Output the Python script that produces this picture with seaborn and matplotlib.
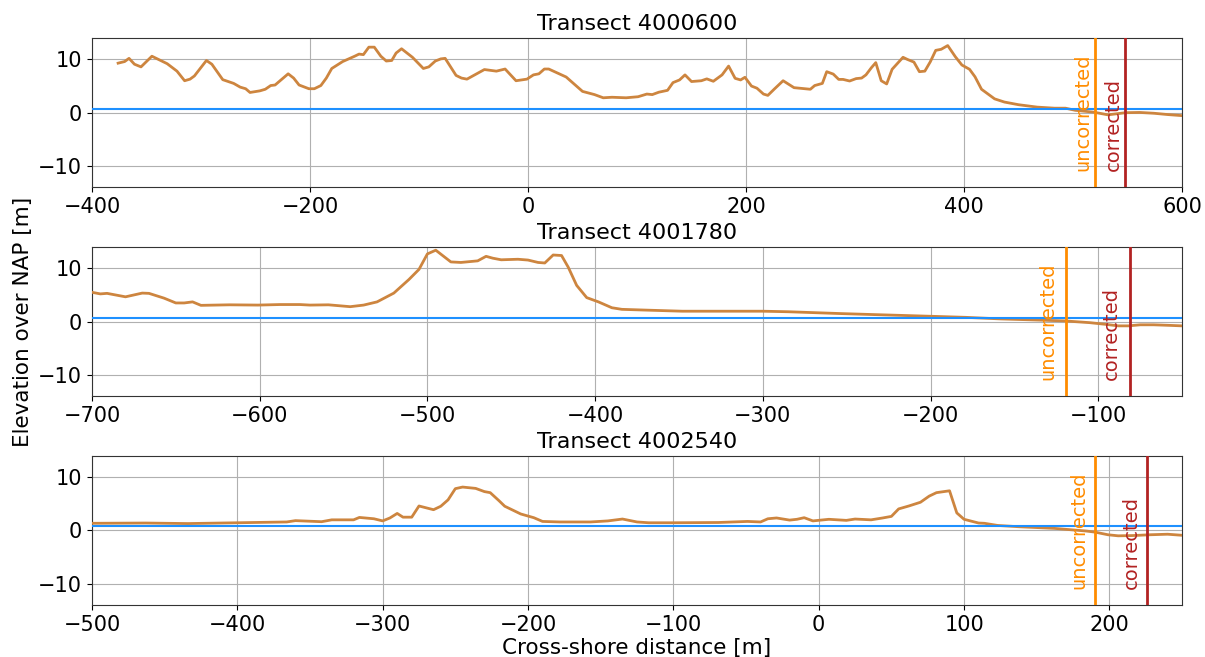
import matplotlib
matplotlib.use("Agg")
import matplotlib.pyplot as plt
import seaborn as sns
import numpy as np

# ---------------- data ----------------
titles = ["Transect 4000600", "Transect 4001780", "Transect 4002540"]
xlims = [(-400, 600), (-700, -50), (-500, 250)]
mhw_level = 0.75
uncorrected_x = [520, -119, 190]
corrected_x = [548, -81, 226]

top_x = [-376, -370, -366, -361, -355, -345, -339, -331, -322, -315,
         -310, -306, -295, -290, -280, -270, -264, -259, -255, -246,
         -241, -236, -232, -220, -215, -210, -201, -196, -190, -185,
         -180, -170, -159, -155, -151, -146, -141, -135, -130, -125,
         -121, -116, -106, -96, -91, -85, -80, -76, -66, -61,
         -56, -48, -40, -29, -21, -11, -1, 5, 10, 15,
         19, 35, 50, 61, 69, 77, 90, 101, 109, 114,
         120, 128, 133, 139, 144, 150, 159, 164, 170, 178,
         184, 190, 195, 199, 205, 210, 216, 220, 226, 234,
         244, 259, 263, 270, 274, 280, 285, 289, 295, 301,
         306, 310, 315, 319, 324, 329, 334, 344, 348, 354,
         359, 364, 369, 374, 379, 385, 392, 398, 405, 410,
         416, 421, 428, 437, 450, 467, 483, 493, 502, 519,
         532, 548, 561, 574, 587, 600]
top_z = [9.3, 9.6, 10.2, 9.1, 8.6, 10.6, 10.0, 9.2, 7.8, 6.0,
         6.3, 6.9, 9.8, 9.1, 6.2, 5.5, 4.8, 4.5, 3.8, 4.1,
         4.4, 5.1, 5.2, 7.3, 6.5, 5.2, 4.5, 4.5, 5.1, 6.5,
         8.3, 9.6, 10.6, 11.0, 10.9, 12.3, 12.3, 10.6, 9.7, 9.8,
         11.2, 12.0, 10.4, 8.3, 8.6, 9.7, 10.1, 10.2, 7.0, 6.5,
         6.3, 7.2, 8.1, 7.8, 8.2, 6.0, 6.3, 7.1, 7.3, 8.2,
         8.2, 6.7, 4.0, 3.4, 2.8, 2.9, 2.8, 3.0, 3.5, 3.4,
         3.85, 4.2, 5.65, 6.15, 7.1, 5.85, 6.0, 6.35, 5.9, 7.1,
         8.75, 6.45, 6.15, 6.65, 5.0, 4.6, 3.5, 3.25, 4.45, 6.0,
         4.7, 4.4, 5.1, 5.5, 7.7, 7.25, 6.25, 6.25, 5.95, 6.4,
         6.5, 7.1, 8.45, 9.4, 6.0, 5.4, 8.15, 10.4, 10.0, 9.5,
         7.7, 7.8, 9.55, 11.7, 11.9, 12.6, 10.5, 8.95, 8.15, 6.75,
         4.4, 3.65, 2.6, 2.0, 1.5, 1.05, 0.85, 0.85, 0.45, 0.1,
         -0.4, 0.0, 0.05, -0.1, -0.35, -0.55]

mid_x = [-700, -695, -691, -680, -675, -670, -666, -657, -650, -645,
         -640, -635, -618, -601, -588, -576, -570, -559, -546, -538,
         -530, -520, -511, -505, -500, -495, -486, -480, -470, -465,
         -461, -456, -446, -440, -434, -430, -425, -420, -416, -411,
         -405, -398, -390, -384, -374, -369, -348, -300, -285, -253,
         -232, -200, -179, -158, -137, -120, -105, -96, -88, -82,
         -75, -67, -58, -50]
mid_z = [5.5, 5.2, 5.3, 4.65, 5.0, 5.35, 5.3, 4.4, 3.5, 3.5,
         3.7, 3.05, 3.15, 3.1, 3.2, 3.2, 3.1, 3.15, 2.8, 3.1,
         3.7, 5.35, 7.9, 9.8, 12.7, 13.4, 11.2, 11.1, 11.4, 12.25,
         11.9, 11.6, 11.7, 11.55, 11.1, 11.0, 12.5, 12.4, 10.2, 6.8,
         4.5, 3.7, 2.6, 2.3, 2.2, 2.15, 1.95, 1.95, 1.85, 1.5,
         1.3, 1.0, 0.8, 0.5, 0.3, 0.13, -0.2, -0.5, -0.8, -0.8,
         -0.6, -0.6, -0.7, -0.8]

bot_x = [-500, -463, -434, -400, -366, -360, -342, -335, -320, -316,
         -306, -300, -295, -290, -286, -280, -275, -265, -260, -255,
         -250, -245, -236, -230, -226, -220, -216, -205, -196, -190,
         -178, -157, -145, -135, -125, -117, -100, -69, -49, -40,
         -35, -29, -20, -15, -10, -4, 7, 19, 25, 36,
         44, 50, 55, 62, 70, 76, 81, 90, 95, 100,
         110, 114, 123, 138, 162, 184, 190, 199, 206, 216,
         228, 240, 250]
bot_z = [1.35, 1.4, 1.3, 1.45, 1.6, 1.85, 1.65, 2.0, 2.0, 2.45,
         2.2, 1.8, 2.35, 3.2, 2.5, 2.5, 4.6, 3.9, 4.55, 5.75,
         7.85, 8.15, 7.9, 7.3, 7.1, 5.6, 4.55, 3.1, 2.4, 1.7,
         1.6, 1.6, 1.8, 2.15, 1.6, 1.45, 1.45, 1.5, 1.7, 1.6,
         2.2, 2.35, 1.95, 2.1, 2.4, 1.8, 2.1, 1.9, 2.15, 2.0,
         2.35, 2.65, 4.05, 4.6, 5.3, 6.45, 7.1, 7.45, 3.3, 2.1,
         1.4, 1.35, 0.95, 0.7, 0.4, -0.1, -0.3, -0.8, -1.0, -0.95,
         -0.8, -0.7, -0.9]

profiles_x = [top_x, mid_x, bot_x]
profiles_z = [top_z, mid_z, bot_z]
ylim = (-14, 14)
yticks = [-10, 0, 10]
label_offset = 11  # metres left of the vertical line

# ---------------- style ----------------
plt.rcParams["font.family"] = ["DejaVu Sans"]
profile_color = "#CD853F"
mhw_color = "#1E90FF"
unc_color = "darkorange"
cor_color = "firebrick"

fig, axes = plt.subplots(3, 1, figsize=(12.05, 6.57), dpi=100)
fig.subplots_adjust(left=0.0763, right=0.981, top=0.942, bottom=0.079, hspace=0.40)

for i, ax in enumerate(axes):
    sns.lineplot(x=profiles_x[i], y=profiles_z[i], ax=ax, color=profile_color,
                 linewidth=2.0, zorder=3)
    ax.axhline(mhw_level, color=mhw_color, linewidth=1.5, zorder=4)
    ax.axvline(uncorrected_x[i], color=unc_color, linewidth=2.0, zorder=5)
    ax.axvline(corrected_x[i], color=cor_color, linewidth=2.0, zorder=5)
    ax.set_xlim(*xlims[i])
    ax.set_ylim(*ylim)
    ax.set_yticks(yticks)
    ax.grid(True, color="#b0b0b0", linewidth=0.8)
    ax.set_axisbelow(True)
    ax.tick_params(labelsize=15)
    ax.set_title(titles[i], fontsize=16)
    ax.text(uncorrected_x[i] - label_offset, -11, "uncorrected", rotation=90, color=unc_color,
            ha="center", va="bottom", fontsize=14, zorder=6)
    ax.text(corrected_x[i] - label_offset, -11, "corrected", rotation=90, color=cor_color,
            ha="center", va="bottom", fontsize=14, zorder=6)
    for s in ax.spines.values():
        s.set_color("#333333")

axes[1].set_ylabel("Elevation over NAP [m]", fontsize=15.5)
axes[2].set_xlabel("Cross-shore distance [m]", fontsize=15.5, labelpad=2)

fig.savefig("out.png", dpi=100)
